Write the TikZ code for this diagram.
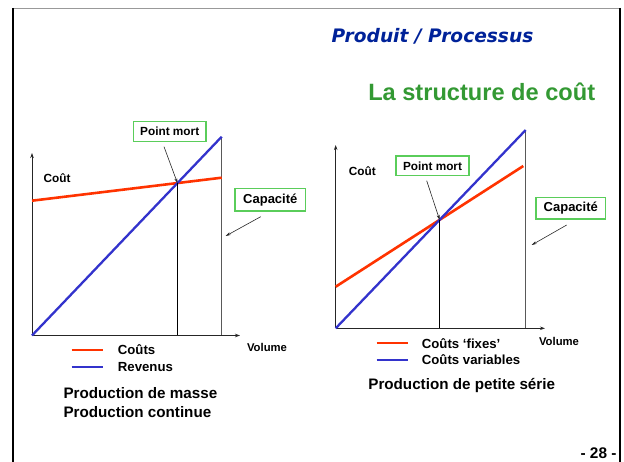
\documentclass[tikz,border=0pt]{standalone}
\usepackage{fontspec}
\setmainfont{Liberation Sans}
\newfontfamily\headfont{DejaVu Sans}
\usetikzlibrary{arrows.meta,intersections}
\definecolor{costred}{RGB}{255,51,0}
\definecolor{revblue}{RGB}{51,51,204}
\definecolor{boxgreen}{RGB}{90,205,90}
\definecolor{titlegreen}{RGB}{51,153,51}
\definecolor{titleblue}{RGB}{0,34,153}
\begin{document}
\begin{tikzpicture}[x=1pt,y=-1pt,
  fs/.style={font=\fontsize{#1}{#1}\selectfont\bfseries},
  lbl/.style={inner sep=0pt},
  greenbox/.style={draw=boxgreen, line width=1.2pt, fill=white, inner sep=0pt},
  axis/.style={draw=black!85, line width=0.8pt, -{Stealth[length=5pt,width=3.5pt]}},
  costline/.style={draw=costred, line width=2.6pt},
  revline/.style={draw=revblue, line width=2.3pt},
  capline/.style={draw=black!65, line width=1.2pt},
  dropline/.style={draw=black, line width=0.9pt},
  pointer/.style={draw=black!85, line width=0.6pt, -{Stealth[length=5pt,width=3pt]}},
  legline/.style={line width=2.3pt},
]
\useasboundingbox (0,0) rectangle (624,462);

% slide frame
\draw[black!40, line width=1.2pt] (12.5,8.5) -- (620.3,8.5);
\draw[black, line width=2pt] (12.5,8) -- (12.5,462);
\draw[black, line width=2pt] (620.3,8) -- (620.3,462);

% headings
\node[lbl, text=titleblue, font=\headfont\fontsize{18.6}{19}\selectfont\bfseries\itshape] (head) at (432.5,36.7) {Produit / Processus};
\node[lbl, text=titlegreen, fs=23.6] (title) at (481.7,91.7) {La structure de coût};

% ---------- mass production ----------
\coordinate (o1) at (32,335.5);
\coordinate (yt1) at (32,153);
\coordinate (xt1) at (240,335.5);
\coordinate (r1) at (221.7,136.7);
\coordinate (c1a) at (32,200.7);
\coordinate (c1b) at (221.7,177.7);
\coordinate (cap1) at (221.7,335.5);

\draw[capline] (r1) -- (cap1);
\draw[axis] (o1) -- (yt1);
\draw[axis] (o1) -- (xt1);
\path[costline, name path=cost1] (c1a) -- (c1b);
\path[revline, name path=rev1] (o1) -- (r1);
\path[name intersections={of=cost1 and rev1, by=pm1}];
\draw[dropline] (pm1) -- (pm1 |- o1);

\node[lbl, fs=11.8] (cout1) at (57,177.7) {Coût};
\node[lbl, fs=11.3] (vol1) at (267,347.3) {Volume};
\node[greenbox, fs=11.8, minimum width=72.7pt, minimum height=20pt] (pmbox1) at (169.7,131.7) {Point mort};
\node[greenbox, fs=13, minimum width=70.7pt, minimum height=22.7pt] (capbox1) at (270.3,199.7) {Capacité};
\coordinate (pmtail1) at (164,146.7);
\coordinate (captail1) at (260.7,216.7);
\coordinate (caphead1) at (225.7,236);
\draw[pointer] (pmtail1) -- (pm1);
\draw[pointer] (captail1) -- (caphead1);

% legend
\coordinate (lr1a) at (71.7,350);   \coordinate (lr1b) at (102.7,350);
\coordinate (lb1a) at (71.7,366.7); \coordinate (lb1b) at (102.7,366.7);
\draw[legline, costred] (lr1a) -- (lr1b);
\draw[legline, revblue] (lb1a) -- (lb1b);
\node[lbl, fs=13.2, anchor=west] (leg1a) at (117.7,350) {Coûts};
\node[lbl, fs=13.2, anchor=west] (leg1b) at (117.7,366.7) {Revenus};
\node[lbl, fs=15.2, anchor=west] (cap1a) at (63.3,393.3) {Production de masse};
\node[lbl, fs=15.2, anchor=west] (cap1b) at (63.3,411.7) {Production continue};

% ---------- small series ----------
\coordinate (o2) at (335.7,328.3);
\coordinate (yt2) at (335.7,145);
\coordinate (xt2) at (545,328.3);
\coordinate (r2) at (525.7,130);
\coordinate (c2a) at (335.7,286.7);
\coordinate (c2b) at (523.3,166);
\coordinate (cap2) at (525.7,328.3);

\draw[capline] (r2) -- (cap2);
\draw[axis] (o2) -- (yt2);
\draw[axis] (o2) -- (xt2);
\path[costline, name path=cost2] (c2a) -- (c2b);
\path[revline, name path=rev2] (o2) -- (r2);
\path[name intersections={of=cost2 and rev2, by=pm2}];
\draw[dropline] (pm2) -- (pm2 |- o2);

\node[lbl, fs=11.8] (cout2) at (362.3,170.7) {Coût};
\node[lbl, fs=11.3] (vol2) at (559,341) {Volume};
\node[greenbox, fs=11.8, minimum width=73pt, minimum height=19.7pt] (pmbox2) at (432.5,165.8) {Point mort};
\node[greenbox, fs=13, minimum width=69.7pt, minimum height=21.7pt] (capbox2) at (570.8,208.2) {Capacité};
\coordinate (pmtail2) at (426.7,180.7);
\coordinate (captail2) at (566.7,225);
\coordinate (caphead2) at (531.7,245);
\draw[pointer] (pmtail2) -- (pm2);
\draw[pointer] (captail2) -- (caphead2);

% legend
\coordinate (lr2a) at (376.7,343.3); \coordinate (lr2b) at (407.7,343.3);
\coordinate (lb2a) at (376.7,360);   \coordinate (lb2b) at (407.7,360);
\draw[legline, costred] (lr2a) -- (lr2b);
\draw[legline, revblue] (lb2a) -- (lb2b);
\node[lbl, fs=13.2, anchor=west] (leg2a) at (421.7,343.3) {Coûts ‘fixes’};
\node[lbl, fs=13.2, anchor=west] (leg2b) at (421.7,360) {Coûts variables};
\node[lbl, fs=15.2] (cap2a) at (461.7,385.7) {Production de petite série};

% page number
\node[lbl, fs=15.4, anchor=east] (page) at (616.7,453.3) {- 28 -};
\end{tikzpicture}
\end{document}
